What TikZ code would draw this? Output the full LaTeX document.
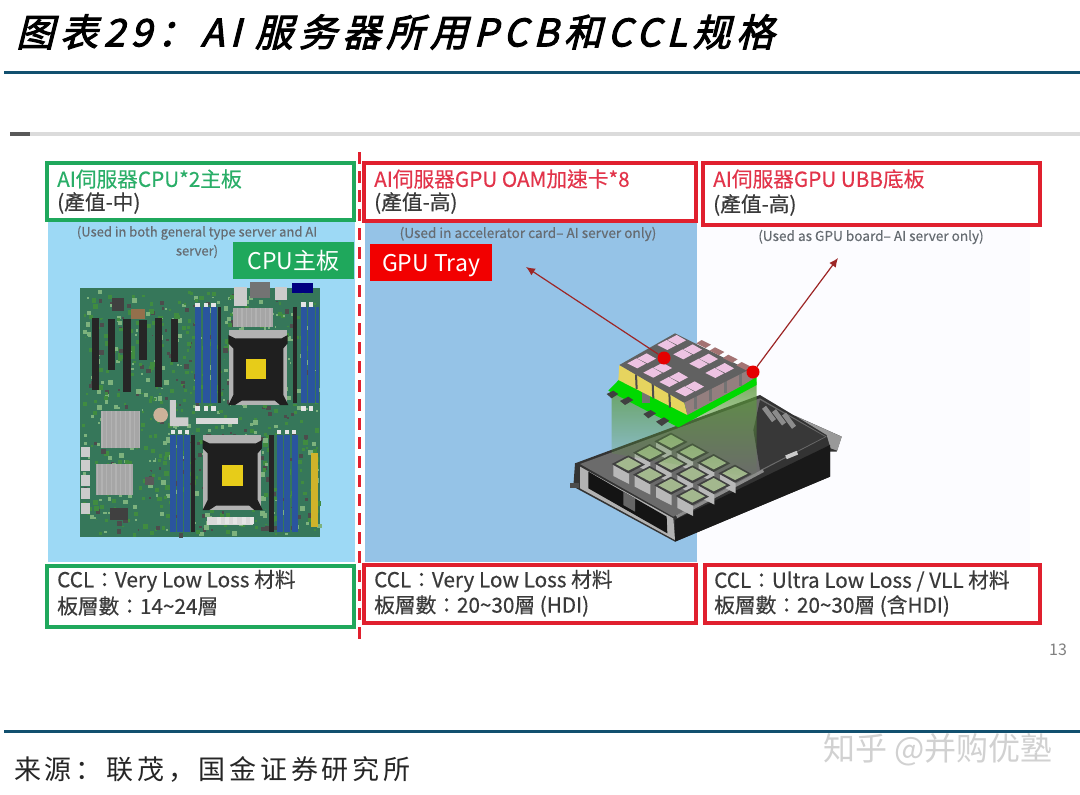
\documentclass[tikz,border=0pt]{standalone}
\usepackage{fontspec}
\usetikzlibrary{fadings,arrows.meta}
\setmainfont[FakeBold=0.35]{Noto Sans CJK TC}
\newfontfamily\plainfont{Noto Sans CJK TC}
\newfontfamily\titlefont[FakeSlant=0.25,FakeBold=2.6,LetterSpace=15]{Noto Sans CJK SC}
\newfontfamily\srcfont[LetterSpace=14]{Noto Sans CJK SC}
\newfontfamily\scfont{Noto Sans CJK SC}
\definecolor{hdr}{HTML}{12506F}
\definecolor{gbox}{HTML}{1FA85C}
\definecolor{rbox}{HTML}{E0202E}
\definecolor{tgreen}{HTML}{2AAE68}
\definecolor{tred}{HTML}{E2344A}
\definecolor{tdark}{HTML}{3A3A3A}
\definecolor{skyA}{HTML}{9DD9F5}
\definecolor{skyB}{HTML}{95C3E7}
\definecolor{note}{HTML}{666C72}
\definecolor{pcb}{HTML}{36775A}
\definecolor{dimm}{HTML}{2A559E}
\definecolor{blockyellow}{HTML}{E6D45F}
\definecolor{tilepink}{HTML}{EDC3E2}
\definecolor{tilegreen}{HTML}{A3B88E}
\definecolor{beamgreen}{HTML}{5C9A3C}
\tikzfading[name=beamfade,top color=transparent!18,bottom color=transparent!100]
\tikzset{
 box/.style={draw,line width=3.2pt,fill=white,inner sep=0pt},
 greenbox/.style={box,draw=gbox},
 redbox/.style={box,draw=rbox},
 headA/.style={anchor=west,inner sep=0pt,font=\fontsize{20.7}{22}\selectfont},
 headB/.style={anchor=west,inner sep=0pt,text=tdark,font=\fontsize{20.7}{22}\selectfont},
 notetext/.style={inner sep=0pt,text=note,font=\fontsize{13.6}{20}\selectfont,align=center},
 tag/.style={inner sep=0pt,text=white,minimum height=37pt,text height=19pt,text depth=1pt,font=\plainfont\fontsize{23}{24}\selectfont},
 reddot/.style={circle,fill=red!90!black,inner sep=0pt,minimum size=13pt},
 callout/.style={draw=red!55!black!85,line width=1.2pt,-{Latex[length=9pt,width=8pt]}},
}
\begin{document}
\begin{tikzpicture}[x=1pt,y=-1pt]
\useasboundingbox (0,0) rectangle (1080,795);
\fill[white] (0,0) rectangle (1080,795);
% header and footer
\node[anchor=west,inner sep=0pt,text=black,font=\titlefont\fontsize{38}{40}\selectfont] (title) at (16,32) {图表29：AI 服务器所用PCB和CCL规格};
\draw[hdr,line width=3pt] (4,72) -- (1080,72);
\draw[hdr,line width=3pt] (4,731.5) -- (1080,731.5);
\node[anchor=west,inner sep=0pt,text=black!85,font=\srcfont\fontsize{27}{28}\selectfont] (source) at (14,769) {来源：联茂，国金证券研究所};
\node[anchor=west,inner sep=0pt,text=black!18,font=\scfont\fontsize{32}{34}\selectfont] (mark) at (823,750) {知乎 @并购优塾};
% slide rule
\fill[black!14] (10,131.5) rectangle (1080,135.5);
\fill[black!65] (10,131.5) rectangle (30,135.5);
% panels
\fill[skyA] (48,222) rectangle (355,562);
\fill[skyB] (365,222) rectangle (697,562);
\fill[blue!1!white] (697,222) rectangle (1030,562);
% motherboard
\begin{scope}[shift={(60,280)},scale=1/3]
 \fill[pcb] (60,25) -- (780,25) -- (780,770) -- (60,770) -- cycle;
 \pgfmathsetseed{29}
 \foreach \i in {1,...,900}{
   \pgfmathsetmacro\px{65+rnd*705}\pgfmathsetmacro\py{30+rnd*730}
   \pgfmathsetmacro\ps{4+rnd*11}\pgfmathsetmacro\pc{rnd*100}
   \ifdim\pc pt<50pt \fill[green!40!black!75] (\px,\py) rectangle +(\ps,\ps);
   \else\ifdim\pc pt<82pt \fill[green!30!white!70!black] (\px,\py) rectangle +(\ps,\ps);
   \else \fill[black!70] (\px,\py) rectangle +(\ps,\ps);\fi\fi
 }
 % PCIe slots
 \foreach \x/\a/\b in {95/115/330,143/118/270,190/118/335,238/120/240,285/115/320,333/118/245}
   \fill[black!85] (\x,\a) rectangle (\x+22,\b);
 % upper DIMMs
 \foreach \x in {405,430,452}{\fill[dimm] (\x,82) rectangle (\x+19,370);\fill[white!90!black] (\x+1,68) rectangle (\x+15,80);\fill[white!90!black] (\x+1,377) rectangle (\x+15,392);}
 \fill[black!85] (473,82) rectangle (484,370);
 \foreach \x in {722,745}{\fill[dimm] (\x,82) rectangle (\x+19,370);\fill[white!90!black] (\x+1,66) rectangle (\x+15,80);\fill[white!90!black] (\x+1,377) rectangle (\x+15,392);}
 \fill[black!85] (698,82) rectangle (712,370);
 \fill[dimm] (767,82) rectangle (776,370);
 % lower DIMMs
 \foreach \x in {330,352,373}{\fill[dimm] (\x,465) rectangle (\x+18,755);\fill[white!90!black] (\x+2,450) rectangle (\x+14,462);}
 \fill[black!85] (392,465) rectangle (405,755);
 \foreach \x in {650,672,695}{\fill[dimm] (\x,465) rectangle (\x+18,755);\fill[white!90!black] (\x+2,450) rectangle (\x+14,462);}
 \fill[black!85] (628,465) rectangle (642,755);
 % sockets
 \foreach \sx/\sy in {505/150,428/465}{
  \fill[black!30] (\sx+2,\sy) rectangle (\sx+176,\sy+225);
  \fill[black!88] (\sx,\sy+15) -- (\sx+20,\sy+25) -- (\sx+160,\sy+25) -- (\sx+178,\sy+15) -- (\sx+178,\sy+40) -- (\sx+165,\sy+55) -- (\sx+165,\sy+195) -- (\sx+180,\sy+225) -- (\sx+155,\sy+225) -- (\sx+140,\sy+212) -- (\sx+40,\sy+212) -- (\sx+20,\sy+225) -- (\sx,\sy+225) -- (\sx+15,\sy+195) -- (\sx+15,\sy+55) -- (\sx,\sy+40) -- cycle;
 }
 \fill[yellow!80!orange!90!black] (558,238) rectangle (618,298);
 \fill[yellow!80!orange!90!black] (486,556) rectangle (548,617);
 % heat sinks
 \foreach \xa/\ya/\xb/\yb in {122/392/240/505,108/552/220/645,520/85/640/142}{
  \fill[black!35] (\xa,\ya) rectangle (\xb,\yb);
  \draw[white!70!black,line width=1.2pt,xstep=14,ystep=14] (\xa,\ya) grid (\xb,\yb);
 }
 % misc parts
 \fill[white!85!black] (408,415) rectangle (535,432);
 \fill[white!80!black] (330,360) -- (348,360) -- (348,412) -- (385,412) -- (385,438) -- (330,438) -- cycle;
 \fill[white!75!orange!80!black] (302,405) circle (22);
 \fill[blue!50!black] (695,8) rectangle (760,38);
 \fill[black!55] (570,5) rectangle (630,55);
 \fill[white!80!black] (522,20) rectangle (562,78);
 \fill[white!80!black] (645,20) rectangle (682,60);
 \fill[black!75] (155,55) rectangle (192,92);
 \fill[orange!40!black!70] (212,88) rectangle (255,118);
 \fill[black!65] (255,590) rectangle (282,616);
 \fill[black!75] (150,685) rectangle (205,720);
 \fill[yellow!70!orange!80!black] (752,520) rectangle (774,740);
 \foreach \y in {500,540,585,625,670}{\fill[white!80!black] (62,\y) rectangle (90,\y+32);}
 \fill[white!85!black] (440,710) rectangle (580,735);
 \foreach \x in {470,495,520,545,570}{\fill[white!90!black] (\x,712) rectangle (\x+12,732);}
\end{scope}
% GPU tray
\begin{scope}[shift={(560,320)},scale=1/3]
 % outer body
 \fill[black!80] (45,430) -- (600,225) -- (700,285) -- (845,350) -- (830,395) -- (810,395) -- (810,470) -- (345,665) -- (40,500) -- cycle;
 % interior
 \fill[black!58] (60,432) -- (600,235) -- (800,350) -- (340,590) -- cycle;
 \fill[black!78] (600,240) -- (795,350) -- (600,450) -- (580,330) -- cycle;
 % right end and rail
 \fill[black!40] (710,290) -- (845,350) -- (832,392) -- (812,385) -- (800,345) -- cycle;
 \draw[black!20,line width=4pt] (678,412) -- (712,398);
 \foreach \i in {0,1,2}{\draw[black!45,line width=5pt] (612+\i*30,262+\i*10) -- +(30,40);}
 % side face
 \fill[black!90] (345,600) -- (810,375) -- (810,470) -- (345,665) -- cycle;
 \draw[black!45,line width=3pt] (350,590) -- (610,452);
 % front face
 \fill[black!30] (60,440) -- (340,595) -- (345,660) -- (60,505) -- cycle;
 \fill[black!92] (85,455) -- (320,590) -- (322,640) -- (85,505) -- cycle;
 \fill[black!60] (190,515) -- (225,535) -- (225,575) -- (190,555) -- cycle;
 \fill[black!70] (30,490) rectangle (58,505);
 % modules
 \foreach \j in {2,1,0}{\foreach \i in {0,1,2,3}{
   \pgfmathsetmacro\ox{205+64*\i+64*\j}\pgfmathsetmacro\oy{430+32*\i-34*\j}
   \fill[black!28] (\ox-45,\oy+5) -- (\ox+2,\oy+30) -- (\ox+2,\oy+62) -- (\ox-45,\oy+38) -- cycle;
   \fill[black!75] (\ox-50,\oy+2) -- (\ox,\oy-24) -- (\ox+50,\oy+4) -- (\ox,\oy+30) -- cycle;
   \fill[tilegreen] (\ox-38,\oy+2) -- (\ox,\oy-18) -- (\ox+38,\oy+3) -- (\ox,\oy+22) -- cycle;
 }}
 % projection beam
 \fill[beamgreen,path fading=beamfade] (155,225) -- (590,185) -- (590,475) -- (155,400) -- cycle;
 % stack board
 \fill[green!85!black] (145,212) -- (178,178) -- (590,165) -- (590,195) -- (355,322) -- cycle;
 \fill[black!75] (140,222) -- (160,212) -- (175,222) -- (155,235) -- cycle;
 \fill[black!75] (180,243) -- (205,230) -- (220,240) -- (195,255) -- cycle;
 \fill[black!75] (250,282) -- (272,270) -- (288,280) -- (265,295) -- cycle;
 \fill[black!75] (288,305) -- (312,292) -- (328,302) -- (305,318) -- cycle;
 \fill[black!55] (245,195) rectangle (270,250);
 % stack blocks
 \fill[blockyellow] (178,135) -- (372,245) -- (382,285) -- (175,180) -- cycle;
 \fill[white!55!red!30!black!60] (372,245) -- (560,148) -- (590,170) -- (550,195) -- (382,285) -- cycle;
 \foreach \i in {1,2,3}{\draw[black!70,line width=2pt] (178+\i*50,135+\i*28) -- +(2,44);}
 \foreach \i in {0,1,2,3}{\draw[black!55,line width=3pt] (405+\i*45,228-\i*23) -- +(0,38);}
 \fill[black!62] (178,135) -- (345,40) -- (565,150) -- (372,248) -- cycle;
 \foreach \i in {0,1,2,3}{\foreach \j in {0,1}{\foreach \k in {0,1}{
   \pgfmathsetmacro\ox{230+48*\i+90*\j+30*\k}\pgfmathsetmacro\oy{130+28*\i-55*\j-15*\k}
   \fill[tilepink] (\ox-28,\oy) -- (\ox,\oy-15) -- (\ox+28,\oy+1) -- (\ox+2,\oy+15) -- cycle;
 }}}
 \foreach \i in {0,1,2,3}{
   \pgfmathsetmacro\ox{425+40*\i}\pgfmathsetmacro\oy{60+22*\i}
   \fill[red!35!black!55!white] (\ox,\oy) -- (\ox+28,\oy+14) -- (\ox+12,\oy+24) -- (\ox-16,\oy+10) -- cycle;
 }
\end{scope}
% dots and callouts
\node[reddot] (dotA) at (664,358) {};
\node[reddot] (dotB) at (753,372) {};
\coordinate (tipA) at (526,267);
\coordinate (tipB) at (838,258);
\draw[callout] (dotA) -- (tipA);
\draw[callout] (dotB) -- (tipB);
% header boxes
\draw[greenbox] (47,163) rectangle (354,220);
\draw[redbox] (364,163) rectangle (696,221);
\draw[redbox] (703,163) rectangle (1040,225);
\node[headA,text=tgreen] (h1) at (57,179) {AI伺服器CPU*2主板};
\node[headB] (h1b) at (57,203) {(產值-中)};
\node[headA,text=tred] (h2) at (374,179) {AI伺服器GPU OAM加速卡*8};
\node[headB] (h2b) at (374,203) {(產值-高)};
\node[headA,text=tred] (h3) at (713,179) {AI伺服器GPU UBB底板};
\node[headB] (h3b) at (713,205) {(產值-高)};
% notes
\node[notetext,font=\fontsize{13}{19}\selectfont] (n1) at (197,242) {(Used in both general type server and AI\\server)};
\node[notetext] (n2) at (528,234) {(Used in accelerator card– AI server only)};
\node[notetext] (n3) at (871,237) {(Used as GPU board– AI server only)};
% tags
\node[tag,fill=gbox,minimum width=121pt] (t1) at (293.5,260) {CPU主板};
\node[tag,fill=red!95!black,minimum width=122pt] (t2) at (431,262) {GPU Tray};
% bottom boxes
\draw[greenbox] (47,566) rectangle (354,627);
\draw[redbox] (364,565) rectangle (696,623);
\draw[redbox] (705,565) rectangle (1040,623);
\node[headB] (b1) at (57,581) {CCL：Very Low Loss 材料};
\node[headB] (b1b) at (57,606) {板層數：14\textasciitilde24層};
\node[headB] (b2) at (374,581) {CCL：Very Low Loss 材料};
\node[headB] (b2b) at (374,606) {板層數：20\textasciitilde30層 (HDI)};
\node[headB] (b3) at (714,581) {CCL：Ultra Low Loss / VLL 材料};
\node[headB] (b3b) at (714,606) {板層數：20\textasciitilde30層 (含HDI)};
% divider
\draw[rbox,line width=3pt,dash pattern=on 12pt off 7pt] (359,152) -- (359,640);
\node[inner sep=0pt,text=black!50,font=\plainfont\fontsize{16}{18}\selectfont] (page) at (1058,650) {13};
\end{tikzpicture}
\end{document}
